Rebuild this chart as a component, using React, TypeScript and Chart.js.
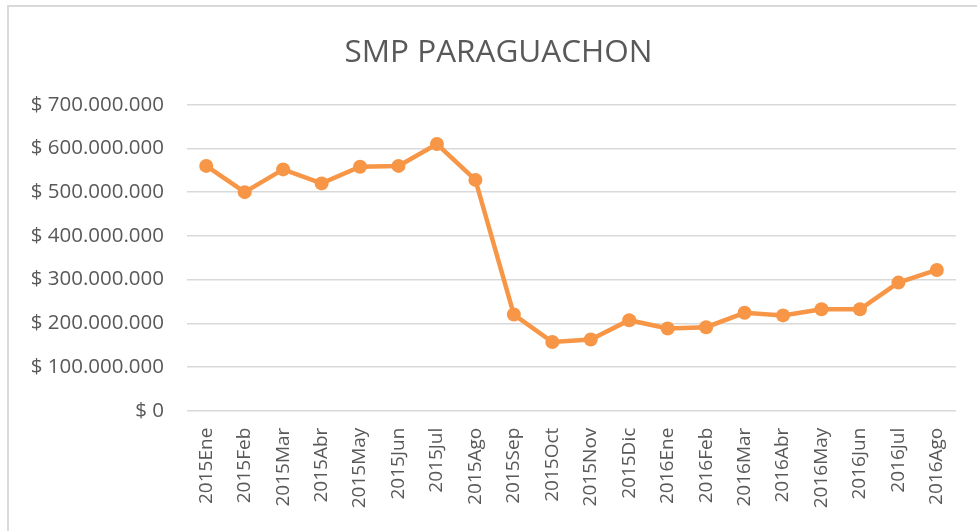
import React, { useEffect, useRef } from "react";
import { Chart, registerables } from "chart.js";

Chart.register(...registerables);

const categories: string[] = [
  "2015Ene", "2015Feb", "2015Mar", "2015Abr", "2015May", "2015Jun", "2015Jul",
  "2015Ago", "2015Sep", "2015Oct", "2015Nov", "2015Dic", "2016Ene", "2016Feb",
  "2016Mar", "2016Abr", "2016May", "2016Jun", "2016Jul", "2016Ago",
];

const smpValues: number[] = [
  560000000, 500000000, 552000000, 520000000, 558000000, 560000000, 610000000,
  528000000, 220000000, 157000000, 163000000, 207000000, 188000000, 191000000,
  224000000, 218000000, 232000000, 232000000, 293000000, 322000000,
];

const yMin = 0;
const yMax = 700000000;
const yStep = 100000000;

const chartTitle = "SMP PARAGUACHON";

function formatPeso(v: number): string {
  const s = Math.round(v).toString().replace(/\B(?=(\d{3})+(?!\d))/g, ".");
  return "$ " + s;
}

const titlePlugin = {
  id: "boxTitle",
  afterDraw(chart: any) {
    const ctx = chart.ctx;
    ctx.save();
    ctx.fillStyle = "#595959";
    ctx.font = "normal 31.5px 'Open Sans', sans-serif";
    ctx.textAlign = "center";
    ctx.textBaseline = "alphabetic";
    ctx.fillText(chartTitle, 498.5, 61.5);
    ctx.restore();
  },
};

export default function App() {
  const canvasRef = useRef<HTMLCanvasElement | null>(null);

  useEffect(() => {
    if (!canvasRef.current) return;
    const chart = new Chart(canvasRef.current, {
      type: "line",
      data: {
        labels: categories,
        datasets: [
          {
            label: chartTitle,
            data: smpValues,
            borderColor: "#F79646",
            backgroundColor: "#F79646",
            borderWidth: 4.5,
            pointRadius: 7,
            pointHoverRadius: 7,
            pointBackgroundColor: "#F79646",
            pointBorderColor: "#F79646",
            pointBorderWidth: 0,
            tension: 0,
            fill: false,
          },
        ],
      },
      options: {
        responsive: false,
        animation: false,
        layout: { padding: { top: 104.7, left: 0, right: 14, bottom: 0 } },
        plugins: {
          legend: { display: false },
          tooltip: { enabled: false },
          title: { display: false },
        },
        scales: {
          x: {
            offset: true,
            grid: { display: false, drawTicks: false },
            border: { display: false },
            ticks: {
              autoSkip: false,
              minRotation: 90,
              maxRotation: 90,
              padding: 17,
              color: "#595959",
              font: { family: "'Open Sans', sans-serif", size: 19 },
            },
            afterFit: (scale: any) => {
              scale.height = 120.3;
            },
          },
          y: {
            min: yMin,
            max: yMax,
            grid: { color: "#D9D9D9", lineWidth: 1.5, drawTicks: false },
            border: { display: false },
            ticks: {
              stepSize: yStep,
              padding: 23,
              color: "#595959",
              font: { family: "'Open Sans', sans-serif", size: 20.5 },
              callback: (v: any) => formatPeso(Number(v)),
            },
            afterFit: (scale: any) => {
              scale.width = 187;
            },
          },
        },
      },
      plugins: [titlePlugin],
    });
    return () => chart.destroy();
  }, []);

  return (
    <div style={{ position: "fixed", left: 0, top: 0, width: 977, height: 531, background: "#fff", overflow: "hidden" }}>
      <div
        style={{
          position: "absolute",
          left: 7,
          top: 5,
          width: 990,
          height: 560,
          border: "2px solid #D9D9D9",
          boxSizing: "border-box",
        }}
      />
      <canvas
        ref={canvasRef}
        width={977}
        height={531}
        style={{ position: "absolute", left: 0, top: 0, width: 977, height: 531 }}
      />
    </div>
  );
}
